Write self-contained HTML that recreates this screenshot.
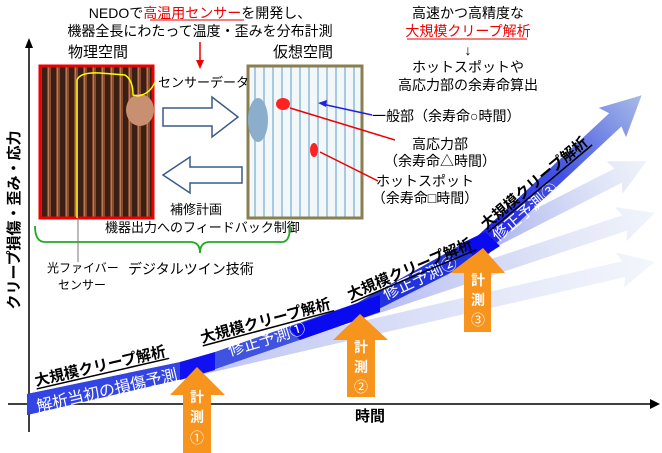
<!DOCTYPE html>
<html><head><meta charset="utf-8"><style>
html,body{margin:0;padding:0;background:#fff;}
svg{display:block;font-family:"Liberation Sans","Noto Sans CJK JP",sans-serif;}
</style></head><body>
<svg width="662" height="453" viewBox="0 0 662 453" xmlns="http://www.w3.org/2000/svg">
<defs>
<linearGradient id="fade" x1="0" y1="0" x2="1" y2="0">
<stop offset="0" stop-color="#4455dd" stop-opacity="0.6"/>
<stop offset="1" stop-color="#c4d2ec" stop-opacity="0.35"/>
</linearGradient>
<linearGradient id="fade2" x1="0" y1="0" x2="1" y2="0">
<stop offset="0" stop-color="#1a1aee"/>
<stop offset="0.5" stop-color="#4455e4"/>
<stop offset="1" stop-color="#a8bce6"/>
</linearGradient>
<pattern id="pipes" width="9" height="10" patternUnits="userSpaceOnUse">
<rect width="9" height="10" fill="#3a2014"/><rect x="2" width="4" height="10" fill="#8a4a2e"/><rect x="3" width="1" height="10" fill="#b87a56"/>
</pattern>
<pattern id="vpipes" width="9" height="10" patternUnits="userSpaceOnUse">
<rect width="9" height="10" fill="#f2f7fa"/><rect x="2" width="2" height="10" fill="#a8cae0"/>
</pattern>
</defs>

<line x1="29" y1="45" x2="29" y2="432" stroke="#000" stroke-width="1.5"/>
<polygon points="29,38 25,48 33,48" fill="#000"/>
<line x1="8" y1="404" x2="652" y2="404" stroke="#000" stroke-width="1.5"/>
<polygon points="660,404 650,399 650,409" fill="#000"/>
<text x="370" y="421" font-size="15" font-weight="bold" text-anchor="middle">時間</text>
<text transform="translate(19,220) rotate(-90)" font-size="15" font-weight="bold" text-anchor="middle">クリープ損傷・歪み・応力</text>

<g transform="translate(195,368) rotate(-13)"><polygon points="0,-8 440,-8 436,-18 472,0 436,18 440,8 0,8" fill="url(#fade)" opacity="0.6"/></g>
<g transform="translate(357,312) rotate(-18.4)"><polygon points="0,-8 282,-8 278,-18 314,0 278,18 282,8 0,8" fill="url(#fade)" opacity="0.7"/></g>
<g transform="translate(480,246) rotate(-27)"><polygon points="0,-8 155,-8 151,-18 187,0 151,18 155,8 0,8" fill="url(#fade)" opacity="0.8"/></g>
<g transform="translate(480,246) rotate(-43)"><polygon points="0,-9 185,-9 181,-20 221,0 181,20 185,9 0,9" fill="url(#fade2)"/></g>

<polygon points="27,394 195,359 357,303 473,238 490,253 357,320 195,376 27,415" fill="#2233dd"/>
<polygon points="27,394 195,359 195,376 27,415" fill="#3344e4"/>
<polygon points="195,359 357,303 357,320 195,376" fill="#3f52e0"/>
<polygon points="180,362 215,352 215,370 180,380" fill="#1010f0"/>
<polygon points="288,328 380,295 380,312 300,340" fill="#0a0af0"/>
<polygon points="460,244 485,232 500,246 478,260" fill="#0a0af0"/>

<g fill="#fff" font-size="16">
<text transform="translate(38,412) rotate(-13)">解析当初の損傷予測</text>
<text transform="translate(230,356) rotate(-17)">修正予測①</text>
<text transform="translate(386,300) rotate(-25)">修正予測②</text>
<text transform="translate(498,242) rotate(-40)">修正予測③</text>
</g>
<g font-size="15" font-weight="bold" fill="#000">
<g transform="translate(36,386) rotate(-13)"><text>大規模クリープ解析</text><line x1="0" y1="3" x2="136" y2="3" stroke="#000" stroke-width="1.5"/></g>
<g transform="translate(202,343) rotate(-15)"><text>大規模クリープ解析</text><line x1="0" y1="3" x2="136" y2="3" stroke="#000" stroke-width="1.5"/></g>
<g transform="translate(350,300) rotate(-23)"><text>大規模クリープ解析</text><line x1="0" y1="3" x2="136" y2="3" stroke="#000" stroke-width="1.5"/></g>
<g transform="translate(486,230) rotate(-40)"><text>大規模クリープ解析</text><line x1="0" y1="3" x2="136" y2="3" stroke="#000" stroke-width="1.5"/></g>
</g>

<g fill="#f7941d">
<polygon points="197,367 225,395 211,395 211,453 183,453 183,395 170,395"/>
<polygon points="360,314 388,340 375,340 375,397 347,397 347,340 333,340"/>
<polygon points="483,248 505,273 491,273 491,332 464,332 464,273 450,273"/>
</g>
<g fill="#fff" font-size="14" font-weight="bold" text-anchor="middle">
<text x="197" y="402">計</text><text x="197" y="422">測</text><text x="197" y="443" font-weight="normal">①</text>
<text x="361" y="352">計</text><text x="361" y="372">測</text><text x="361" y="392" font-weight="normal">②</text>
<text x="478" y="285">計</text><text x="478" y="305">測</text><text x="478" y="325" font-weight="normal">③</text>
</g>

<g font-size="14" fill="#000" text-anchor="middle">
<text x="200" y="18">NEDOで<tspan fill="#e00">高温用センサー</tspan>を開発し、</text>
<text x="200" y="36">機器全長にわたって温度・歪みを分布計測</text>
<text x="98" y="57" font-size="15">物理空間</text>
<text x="303" y="57" font-size="15">仮想空間</text>
</g>
<line x1="150" y1="20" x2="244" y2="20" stroke="#e00" stroke-width="1"/>
<line x1="200" y1="42" x2="200" y2="62" stroke="#e00" stroke-width="1.5"/>
<polygon points="200,69 196,60 204,60" fill="#e00"/>

<rect x="40" y="66" width="113" height="152" fill="url(#pipes)" stroke="#e00" stroke-width="3"/>
<ellipse cx="140" cy="110" rx="14" ry="16" fill="#c89070"/>
<path d="M77,218 L77,80 Q80,72 100,73 L125,75 Q133,80 133,95 L138,96 Q150,94 155,82" fill="none" stroke="#ff0" stroke-width="1.5"/>
<rect x="248" y="66" width="114" height="152" fill="url(#vpipes)" stroke="#8a7f50" stroke-width="3"/>
<ellipse cx="258" cy="120" rx="10" ry="22" fill="#8aaecc"/>
<ellipse cx="283" cy="104" rx="7" ry="6" fill="#f22"/>
<ellipse cx="314" cy="150" rx="4" ry="7" fill="#f22"/>

<line x1="322" y1="104" x2="372" y2="115" stroke="#22d" stroke-width="1.5"/>
<polygon points="318,103 327,100 326,107" fill="#22d"/>
<line x1="290" y1="108" x2="395" y2="140" stroke="#e00" stroke-width="1.5"/>
<line x1="320" y1="152" x2="378" y2="181" stroke="#e00" stroke-width="1.5"/>

<polygon points="163,108 212,108 212,97 238,117 212,137 212,126 163,126" fill="#fff" stroke="#3a5a8a" stroke-width="1.5"/>
<polygon points="242,167 190,167 190,157 163,175 190,193 190,183 242,183" fill="#fff" stroke="#3a5a8a" stroke-width="1.5"/>

<g font-size="13" fill="#000">
<text x="158" y="87">センサーデータ</text>
<text x="170" y="214">補修計画</text>
<text x="105" y="232">機器出力へのフィードバック制御</text>
<text x="47" y="272" font-size="12">光ファイバー</text>
<text x="58" y="289" font-size="12">センサー</text>
<text x="128" y="274" font-size="14">デジタルツイン技術</text>
</g>
<path d="M35,226 Q35,242 45,242 L190,242 Q200,242 200,253 Q200,242 210,242 L282,242 Q290,242 290,226" fill="none" stroke="#2a2" stroke-width="1.8"/>
<line x1="78" y1="218" x2="78" y2="262" stroke="#777" stroke-width="1"/>

<g font-size="14" fill="#000" text-anchor="middle">
<text x="468" y="18">高速かつ高精度な</text>
<text x="468" y="36" fill="#e00">大規模クリープ解析</text>
<text x="468" y="55">↓</text>
<text x="468" y="72">ホットスポットや</text>
<text x="468" y="90">高応力部の余寿命算出</text>
<text x="440" y="149">高応力部</text>
<text x="440" y="166">（余寿命△時間）</text>
<text x="425" y="186">ホットスポット</text>
<text x="425" y="203">（余寿命□時間）</text>
</g>
<line x1="407" y1="39" x2="527" y2="39" stroke="#e00" stroke-width="1"/>
<text x="372" y="121" font-size="14">一般部（余寿命○時間）</text>
</svg>
</body></html>
